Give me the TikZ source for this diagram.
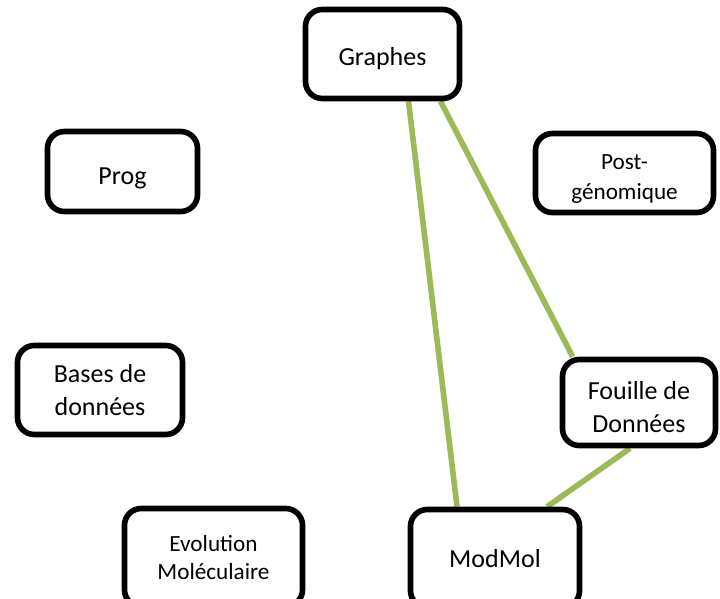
\documentclass[tikz,border=0pt]{standalone}
\usepackage{fontspec}
\setmainfont{Carlito}
\usepackage{tikz}
\usetikzlibrary{calc,backgrounds}
\definecolor{lgreen}{RGB}{155,187,89}
\newcommand{\tstrut}[1]{\rule{0pt}{#1}}

\begin{document}
\begin{tikzpicture}[x=0.025cm,y=-0.025cm,font=\fontsize{18.5}{23}\selectfont,
    topic/.style={draw=black,fill=white,line width=4pt,rounded corners=12pt,align=center},
    link/.style={draw=lgreen,line width=4pt}]
  \useasboundingbox (0,0) rectangle (720,598);
  \node[topic,minimum width=3.85cm,minimum height=2.225cm] (graphes) at (382.5,54) {\tstrut{20pt}Graphes};
  \node[topic,minimum width=3.75cm,minimum height=2cm] (prog) at (122.5,171.5) {\tstrut{21pt}Prog};
  \node[topic,minimum width=4.45cm,minimum height=1.975cm,font=\fontsize{16.5}{21}\selectfont] (postgen) at (624.5,173) {\tstrut{19pt}Post-\\génomique};
  \node[topic,minimum width=4.125cm,minimum height=2.225cm] (bdd) at (100,390) {Bases de\\données};
  \node[topic,minimum width=3.825cm,minimum height=2.15cm] (fouille) at (639,402.5) {\tstrut{19.5pt}Fouille de\\Données};
  \node[topic,minimum width=4.225cm,minimum height=2.45cm] (modmol) at (495,558.5) {ModMol};
  \node[topic,minimum width=4.45cm,minimum height=2.45cm,font=\fontsize{16.5}{19.5}\selectfont] (evol) at (213.5,557.5) {Evolution\\Moléculaire};
  \begin{scope}[on background layer]
    \draw[link] ($(graphes.south)+(26,0)$) -- ($(modmol.north)+(-38,0)$);
    \draw[link] ($(graphes.south)+(58,0)$) -- ($(fouille.north west)+(13,0)$);
    \draw[link] ($(fouille.south)+(-9,0)$) -- ($(modmol.north)+(52,0)$);
  \end{scope}
\end{tikzpicture}
\end{document}
